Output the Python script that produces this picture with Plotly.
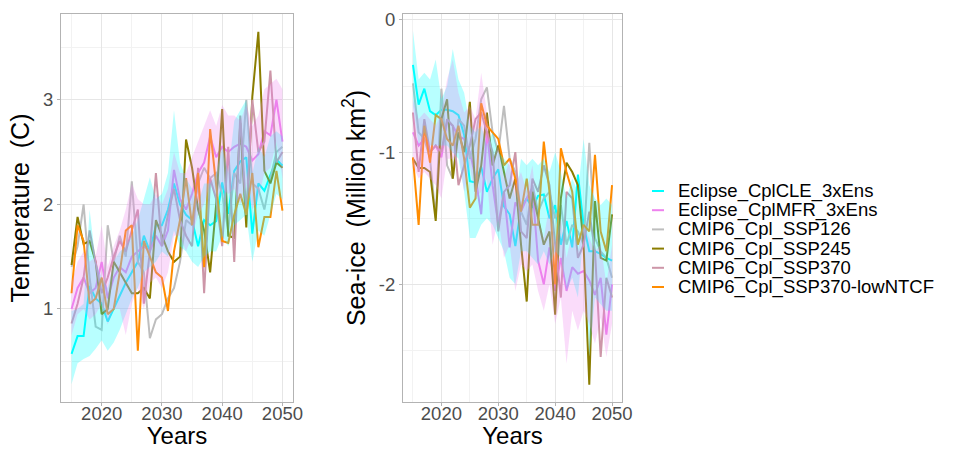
import plotly.graph_objects as go
from plotly.subplots import make_subplots

years = list(range(2015, 2051))

series_names = ["Eclipse_CplCLE_3xEns", "Eclipse_CplMFR_3xEns", "CMIP6_Cpl_SSP126",
                "CMIP6_Cpl_SSP245", "CMIP6_Cpl_SSP370", "CMIP6_Cpl_SSP370-lowNTCF"]
series_colors = ["#00FFFF", "#EE82EE", "#BEBEBE", "#8B7D00", "#CD96A8", "#FF8C00"]

# ---------------- Temperature (C) ----------------
temp_cle = [0.57, 0.74, 0.74, 1.22, 1.10, 1.05, 0.88, 1.00, 1.12, 1.25, 1.35, 1.45, 1.70, 1.55, 1.80, 1.80,
            1.95, 2.20, 2.00, 1.90, 1.85, 1.60, 1.85, 1.80, 1.84, 2.21, 1.91, 2.32, 2.41, 2.45, 1.72, 2.20,
            2.13, 2.29, 2.43, 2.37]
temp_mfr = [1.00, 1.20, 1.30, 1.15, 1.20, 1.45, 1.10, 1.30, 1.40, 1.35, 1.50, 1.55, 1.60, 1.55, 1.70, 1.60,
            1.75, 2.33, 2.05, 1.95, 2.10, 2.30, 2.40, 2.65, 2.45, 2.55, 2.50, 2.55, 2.58, 2.55, 2.42, 2.48,
            2.70, 2.66, 3.00, 2.60]
temp_126 = [1.40, 1.60, 2.00, 1.30, 0.83, 0.80, 1.80, 1.45, 1.70, 1.50, 2.22, 1.45, 1.35, 0.72, 0.90, 0.95,
            1.10, 1.20, 1.45, 1.85, 1.80, 2.20, 2.35, 2.25, 2.30, 2.10, 1.75, 2.30, 2.20, 3.00, 2.20, 2.15,
            1.95, 2.25, 2.50, 2.55]
temp_245 = [1.42, 1.88, 1.62, 1.65, 1.45, 0.95, 1.00, 1.45, 1.35, 1.25, 1.15, 1.15, 1.20, 1.10, 1.85, 1.70,
            1.55, 1.45, 1.50, 2.62, 2.35, 1.95, 1.75, 1.35, 2.00, 2.91, 1.70, 1.68, 2.78, 1.78, 3.03, 3.65,
            2.32, 2.20, 2.40, 2.35]
temp_370 = [0.86, 1.05, 1.30, 1.75, 1.45, 1.15, 1.30, 1.50, 1.65, 1.55, 1.75, 1.95, 1.05, 1.55, 2.30, 1.60,
            1.90, 2.15, 1.85, 1.70, 1.60, 2.35, 1.15, 2.25, 2.05, 1.60, 2.55, 1.45, 2.85, 1.90, 3.00, 2.50,
            2.60, 3.28, 2.40, 2.50]
temp_370low = [1.15, 1.80, 1.65, 1.05, 1.10, 1.30, 0.95, 1.00, 1.35, 1.75, 1.80, 0.60, 1.65, 1.50, 1.35, 1.30,
               0.98, 1.55, 1.85, 2.25, 1.80, 2.30, 1.40, 2.72, 2.20, 1.65, 1.63, 1.90, 2.10, 1.90, 2.30, 1.59,
               1.88, 1.88, 2.32, 1.94]
temp_cle_lo = [0.28, 0.48, 0.52, 0.55, 0.62, 0.70, 0.60, 0.68, 0.80, 0.95, 1.10, 1.20, 1.35, 1.40, 1.45, 1.55,
               1.50, 1.75, 1.60, 1.55, 1.45, 1.40, 1.50, 1.55, 1.55, 1.70, 1.60, 1.80, 1.85, 1.90, 1.45, 1.75,
               1.70, 1.90, 2.10, 2.05]
temp_cle_hi = [0.98, 1.00, 1.05, 1.95, 1.45, 1.30, 1.20, 1.45, 1.55, 1.60, 1.70, 1.85, 2.05, 2.26, 2.05, 2.10,
               2.30, 2.90, 2.40, 2.25, 2.15, 2.00, 2.20, 2.20, 2.30, 2.55, 2.30, 2.80, 2.90, 3.00, 2.30, 2.55,
               2.45, 2.65, 2.70, 2.65]
temp_mfr_lo = [0.75, 0.95, 1.00, 0.90, 0.95, 1.05, 0.85, 1.00, 1.00, 0.75, 1.05, 1.20, 1.00, 1.25, 1.30, 1.20,
               1.35, 1.70, 1.70, 1.55, 1.70, 1.90, 2.00, 2.20, 2.05, 2.15, 2.10, 2.15, 2.00, 2.20, 1.95, 2.05,
               2.30, 2.35, 2.60, 2.25]
temp_mfr_hi = [1.25, 1.45, 1.55, 1.45, 1.50, 1.80, 1.40, 1.60, 1.75, 1.95, 2.20, 2.05, 2.00, 2.00, 2.10, 2.00,
               2.15, 2.50, 2.30, 2.30, 2.45, 2.60, 2.75, 2.90, 2.75, 2.95, 2.85, 2.85, 2.80, 2.95, 2.75, 2.85,
               3.10, 3.15, 3.20, 3.10]

# ---------------- Sea-ice (Million km2) ----------------
ice_cle = [-0.34, -0.64, -0.52, -0.69, -0.72, -0.68, -0.68, -0.69, -0.72, -0.87, -1.22, -1.23, -1.11, -1.30,
           -1.20, -1.13, -1.41, -1.47, -1.71, -1.42, -1.35, -1.42, -1.33, -1.32, -1.50, -1.40, -1.70, -1.52,
           -1.72, -1.17, -1.55, -1.75, -1.75, -1.77, -1.80, -1.82]
ice_mfr = [-0.85, -0.95, -0.90, -1.00, -0.95, -1.04, -0.77, -0.80, -0.88, -0.90, -1.00, -1.19, -1.47, -0.84,
           -1.25, -1.55, -1.30, -1.72, -1.38, -1.45, -1.35, -1.27, -1.82, -2.00, -1.72, -2.05, -1.80, -2.05,
           -1.87, -1.92, -1.90, -1.97, -2.08, -1.95, -2.38, -2.00]
ice_126 = [-0.48, -0.85, -0.90, -1.05, -1.50, -0.52, -1.10, -1.20, -0.75, -0.80, -1.05, -0.90, -0.60, -0.51,
           -0.85, -1.00, -0.65, -1.05, -1.15, -1.45, -1.55, -1.25, -1.45, -1.35, -1.30, -1.50, -1.40, -1.70,
           -1.55, -1.60, -1.70, -0.93, -1.65, -1.75, -1.80, -1.95]
ice_245 = [-1.05, -1.12, -1.12, -1.15, -1.52, -0.75, -0.60, -1.20, -0.85, -1.00, -0.62, -1.30, -1.10, -0.70,
           -1.10, -0.95, -1.15, -1.35, -1.20, -1.70, -2.13, -1.30, -1.50, -1.70, -1.60, -2.23, -1.35, -1.08,
           -1.15, -1.25, -1.70, -2.76, -1.37, -1.80, -1.82, -1.47]
ice_370 = [-0.70, -1.15, -0.75, -1.00, -0.95, -1.00, -0.75, -0.80, -1.25, -1.10, -0.95, -0.75, -0.70, -0.85,
           -1.00, -1.60, -1.30, -1.25, -1.00, -1.60, -1.65, -1.20, -1.30, -1.10, -1.25, -1.70, -2.10, -1.30,
           -1.35, -1.80, -1.70, -1.45, -1.75, -2.55, -1.95, -2.10]
ice_370low = [-1.04, -1.55, -0.80, -1.08, -0.72, -0.75, -0.90, -0.95, -0.80, -1.05, -1.42, -1.35, -0.63, -0.80,
              -0.85, -0.90, -1.10, -1.05, -1.20, -1.45, -1.20, -1.55, -1.55, -0.92, -1.30, -2.00, -0.97, -1.15,
              -1.30, -1.70, -1.55, -1.60, -1.02, -1.60, -1.75, -1.25]
ice_cle_lo = [-0.65, -0.95, -0.85, -0.95, -0.95, -0.95, -0.95, -1.00, -1.05, -1.30, -1.65, -1.65, -1.55, -1.50,
              -1.55, -1.65, -1.75, -1.95, -2.00, -1.75, -1.75, -1.80, -1.85, -1.75, -1.85, -1.75, -1.80, -2.05,
              -1.95, -2.10, -1.60, -2.55, -2.10, -2.15, -2.20, -2.20]
ice_cle_hi = [-0.08, -0.45, -0.40, -0.45, -0.30, -0.60, -0.50, -0.22, -0.45, -0.55, -0.80, -0.85, -0.80, -0.95,
              -0.85, -1.00, -1.05, -1.10, -1.35, -1.05, -1.10, -1.05, -1.10, -1.05, -1.15, -1.00, -1.15, -1.35,
              -1.20, -1.30, -0.90, -1.25, -1.35, -1.40, -1.35, -1.40]
ice_mfr_lo = [-1.10, -1.20, -1.15, -1.20, -1.25, -1.35, -1.05, -1.05, -1.00, -1.30, -1.10, -1.35, -1.30, -1.20,
              -1.70, -1.50, -1.80, -1.70, -2.05, -1.85, -1.90, -1.85, -2.05, -2.20, -2.00, -2.30, -2.10, -2.60,
              -2.20, -2.35, -2.20, -2.30, -2.45, -2.25, -2.55, -2.30]
ice_mfr_hi = [-0.60, -0.75, -0.70, -0.75, -0.80, -0.70, -0.45, -0.30, -0.55, -0.70, -0.65, -0.75, -0.40, -0.70,
              -1.05, -0.95, -1.20, -1.05, -1.25, -1.15, -1.30, -1.10, -1.50, -1.65, -1.40, -1.70, -1.50, -1.80,
              -1.60, -1.75, -1.55, -1.65, -1.75, -1.70, -2.00, -1.70]

temp_series = [temp_cle, temp_mfr, temp_126, temp_245, temp_370, temp_370low]
ice_series = [ice_cle, ice_mfr, ice_126, ice_245, ice_370, ice_370low]
temp_bands = [(temp_cle_lo, temp_cle_hi), (temp_mfr_lo, temp_mfr_hi)]
ice_bands = [(ice_cle_lo, ice_cle_hi), (ice_mfr_lo, ice_mfr_hi)]
band_fills = ["rgba(0,255,255,0.28)", "rgba(238,130,238,0.28)"]

FONT = "Liberation Sans, Arial, Helvetica, sans-serif"

fig = make_subplots(rows=1, cols=2)

for col, (series, bands) in enumerate([(temp_series, temp_bands), (ice_series, ice_bands)], start=1):
    for name, color, vals in zip(series_names, series_colors, series):
        fig.add_trace(go.Scatter(x=years, y=vals, mode="lines", name=name,
                                 line=dict(color=color, width=2), showlegend=False,
                                 hoverinfo="skip"), row=1, col=col)
    for (lo, hi), fill in zip(bands, band_fills):
        fig.add_trace(go.Scatter(x=years, y=lo, mode="lines", line=dict(width=0),
                                 showlegend=False, hoverinfo="skip"), row=1, col=col)
        fig.add_trace(go.Scatter(x=years, y=hi, mode="lines", line=dict(width=0),
                                 fill="tonexty", fillcolor=fill, showlegend=False,
                                 hoverinfo="skip"), row=1, col=col)

# plot area geometry (pixels)
W, H = 959, 449
ML, MR, MT, MB = 61, 337, 14, 47
pw = W - ML - MR
ph = H - MT - MB

axis_common = dict(
    showline=True, mirror=True, linecolor="#B3B3B3", linewidth=1,
    showgrid=True, gridcolor="#E6E6E6", gridwidth=1,
    ticks="outside", ticklen=3, tickcolor="#B3B3B3",
    tickfont=dict(size=18.5, color="#4D4D4D", family=FONT),
    zeroline=False, automargin=False,
)

xticks = [2020, 2030, 2040, 2050]
fig.update_xaxes(**axis_common, range=[2013.25, 2051.75], tickvals=xticks, ticklabelstandoff=-8,
                 minor=dict(showgrid=True, gridcolor="#F2F2F2", tickvals=[2015, 2025, 2035, 2045]),
                 title=dict(text="Years", font=dict(size=24, color="black", family=FONT), standoff=10))
fig.update_xaxes(domain=[0, (293 - ML) / pw], row=1, col=1)
fig.update_xaxes(domain=[(403 - ML) / pw, 1], row=1, col=2)

temp_ticks = [1, 2, 3]
ice_ticks = [0, -1, -2]
fig.update_yaxes(**axis_common, row=1, col=1, range=[0.11, 3.82],
                 tickvals=temp_ticks, ticktext=[str(v) for v in temp_ticks],
                 minor=dict(showgrid=True, gridcolor="#F2F2F2", tickvals=[0.5, 1.5, 2.5, 3.5]),
                 title=dict(text="Temperature\u00a0 (C)", font=dict(size=25, color="black", family=FONT),
                            standoff=6))
fig.update_yaxes(**axis_common, row=1, col=2, range=[-2.89, 0.045],
                 tickvals=ice_ticks, ticktext=[str(v) for v in ice_ticks],
                 minor=dict(showgrid=True, gridcolor="#F2F2F2", tickvals=[-0.5, -1.5, -2.5]),
                 title=dict(text="Sea-ice\u00a0 (Million km<sup>2</sup>)",
                            font=dict(size=25, color="black", family=FONT), standoff=6))

# legend drawn as annotations + short line keys
leg_key_x0, leg_key_x1, leg_text_x = 652, 664, 676
leg_y0, leg_dy = 191, 19.2
shapes = []
annotations = []
for i, (name, color) in enumerate(zip(series_names, series_colors)):
    ypix = leg_y0 + i * leg_dy
    yp = (H - MB - ypix) / ph
    shapes.append(dict(type="line", xref="paper", yref="paper",
                       x0=(leg_key_x0 - ML) / pw, x1=(leg_key_x1 - ML) / pw, y0=yp, y1=yp,
                       line=dict(color=color, width=2)))
    annotations.append(dict(xref="paper", yref="paper", x=(leg_text_x - ML) / pw, y=yp,
                            xanchor="left", yanchor="middle", showarrow=False, text=name,
                            font=dict(size=18.5, color="black", family=FONT)))

fig.update_layout(
    width=W, height=H,
    margin=dict(l=ML, r=MR, t=MT, b=MB, pad=0),
    paper_bgcolor="white", plot_bgcolor="white",
    showlegend=False, shapes=shapes, annotations=annotations,
    font=dict(family=FONT),
)

fig.write_html("out.html")
